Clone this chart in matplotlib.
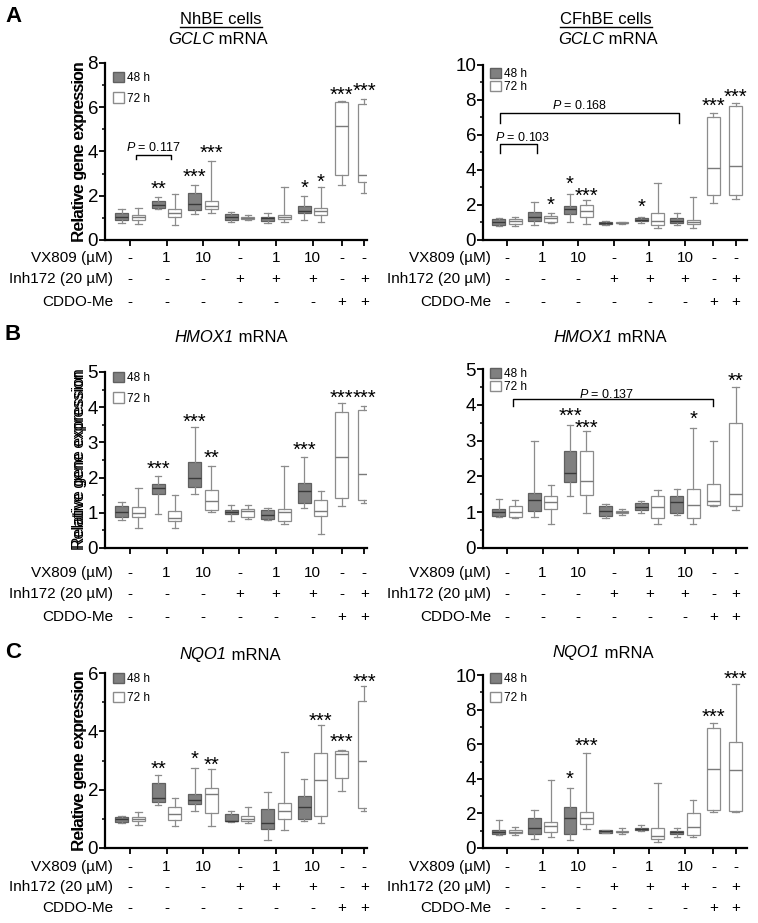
import matplotlib
matplotlib.use("Agg")
import matplotlib.pyplot as plt
import matplotlib.transforms as mtransforms
from matplotlib.lines import Line2D
from matplotlib.patches import Patch
from matplotlib.ticker import MultipleLocator, AutoMinorLocator

plt.rcParams['font.family'] = ['Liberation Sans', 'DejaVu Sans']
plt.rcParams['mathtext.fontset'] = 'custom'
plt.rcParams['mathtext.rm'] = 'Liberation Sans'
plt.rcParams['mathtext.it'] = 'Liberation Sans:italic'

W, H = 758, 923  # figure size in pixels (dpi 100)

# treatment table under each plot
vx809 = ['-', '1', '10', '-', '1', '10', '-', '-']
inh172 = ['-', '-', '-', '+', '+', '+', '-', '+']
cddo = ['-', '-', '-', '-', '-', '-', '+', '+']
row_names = ['VX809 (µM)', 'Inh172 (20 µM)', 'CDDO-Me']

# box stats per group: [low whisker, q1, median, q3, high whisker]
# 48 h has the 6 groups without CDDO-Me, 72 h has all 8
gclc_nh_48 = [[0.78, 0.90, 1.06, 1.21, 1.39], [1.39, 1.43, 1.58, 1.78, 1.96],
              [1.18, 1.36, 1.63, 2.14, 2.49], [0.83, 0.90, 1.06, 1.16, 1.28],
              [0.78, 0.86, 0.98, 1.06, 1.24], [0.90, 1.21, 1.33, 1.54, 1.99]]
gclc_nh_72 = [[0.71, 0.90, 1.03, 1.13, 1.43], [0.68, 1.06, 1.20, 1.39, 2.08],
              [1.21, 1.39, 1.55, 1.77, 3.58], [0.90, 0.94, 1.01, 1.06, 1.13],
              [0.83, 0.94, 1.06, 1.13, 2.38], [0.83, 1.13, 1.30, 1.43, 2.38],
              [2.49, 2.94, 5.16, 6.22, 6.26], [2.11, 2.64, 2.94, 6.14, 6.37]]

gclc_cf_48 = [[0.82, 0.86, 1.03, 1.20, 1.24], [0.86, 1.10, 1.33, 1.60, 2.19],
              [1.05, 1.47, 1.75, 1.94, 2.63], [0.86, 0.91, 0.97, 1.05, 1.07],
              [0.99, 1.09, 1.16, 1.24, 1.33], [0.86, 0.99, 1.10, 1.24, 1.52]]
gclc_cf_72 = [[0.80, 0.90, 1.09, 1.20, 1.30], [0.99, 1.05, 1.24, 1.37, 1.52],
              [0.91, 1.33, 1.68, 2.00, 2.29], [0.91, 0.95, 0.99, 1.03, 1.05],
              [0.67, 0.86, 1.10, 1.52, 3.28], [0.70, 0.91, 1.05, 1.14, 2.44],
              [2.10, 2.57, 4.10, 7.00, 7.24], [2.32, 2.57, 4.25, 7.66, 7.85]]

hmox_nh_48 = [[0.80, 0.88, 1.02, 1.20, 1.30], [0.96, 1.53, 1.70, 1.82, 2.05],
              [1.53, 1.73, 1.99, 2.45, 3.45], [0.77, 0.96, 1.02, 1.07, 1.21],
              [0.80, 0.83, 0.94, 1.07, 1.15], [1.13, 1.27, 1.62, 1.86, 2.59]]
hmox_nh_72 = [[0.58, 0.88, 0.99, 1.16, 1.70], [0.58, 0.77, 0.85, 1.06, 1.51],
              [1.01, 1.07, 1.34, 1.65, 2.34], [0.83, 0.88, 1.04, 1.11, 1.21],
              [0.68, 0.78, 1.02, 1.10, 2.33], [0.41, 0.90, 1.06, 1.35, 1.63],
              [1.18, 1.42, 2.59, 3.85, 4.13], [1.27, 1.37, 2.09, 3.92, 4.04]]

hmox_cf_48 = [[0.87, 0.89, 1.01, 1.08, 1.36], [0.87, 1.03, 1.33, 1.55, 3.00],
              [1.44, 1.83, 2.09, 2.70, 3.43], [0.83, 0.89, 1.03, 1.17, 1.22],
              [0.97, 1.06, 1.15, 1.25, 1.31], [0.91, 0.98, 1.29, 1.45, 1.66]]
hmox_cf_72 = [[0.83, 0.87, 1.01, 1.17, 1.33], [0.66, 1.08, 1.29, 1.44, 1.75],
              [0.98, 1.47, 1.86, 2.72, 3.26], [0.91, 0.97, 1.00, 1.03, 1.08],
              [0.68, 0.84, 1.15, 1.44, 1.62], [0.66, 0.84, 1.20, 1.66, 3.35],
              [1.17, 1.20, 1.31, 1.78, 3.00], [1.06, 1.17, 1.52, 3.49, 4.50]]

nqo_nh_48 = [[0.86, 0.88, 0.99, 1.06, 1.09], [1.49, 1.58, 1.71, 2.23, 2.49],
             [1.26, 1.51, 1.66, 1.86, 2.74], [0.89, 0.91, 0.94, 1.17, 1.28],
             [0.29, 0.66, 0.86, 1.34, 1.91], [0.91, 0.99, 1.39, 1.79, 2.37]]
nqo_nh_72 = [[0.80, 0.91, 0.99, 1.06, 1.23], [0.77, 0.97, 1.18, 1.41, 1.71],
             [0.77, 1.20, 1.86, 2.06, 2.72], [0.86, 0.91, 0.99, 1.09, 1.39],
             [0.63, 0.99, 1.28, 1.54, 3.29], [0.86, 1.11, 2.32, 3.26, 4.23],
             [1.97, 2.40, 3.23, 3.31, 3.37], [1.26, 1.37, 2.99, 5.05, 5.54]]

nqo_cf_48 = [[0.75, 0.80, 0.92, 1.05, 1.62], [0.51, 0.80, 1.14, 1.75, 2.19],
             [0.48, 0.80, 1.71, 2.38, 3.47], [0.85, 0.88, 0.97, 1.03, 1.05],
             [0.99, 1.05, 1.10, 1.18, 1.33], [0.61, 0.82, 0.91, 0.99, 1.14]]
nqo_cf_72 = [[0.76, 0.86, 0.93, 1.05, 1.24], [0.61, 0.90, 1.28, 1.52, 3.94],
             [1.09, 1.37, 1.71, 2.06, 5.52], [0.80, 0.90, 0.95, 0.99, 1.18],
             [0.32, 0.53, 0.72, 1.14, 3.75], [0.61, 0.76, 1.20, 2.00, 2.80],
             [2.10, 2.19, 4.57, 6.95, 7.24], [2.10, 2.13, 4.48, 6.10, 9.47]]

# significance marks: (group, series -1=48h / 1=72h / 0=single, text, y)
stars_gclc_nh = [(1, -1, '**', 2.57), (2, -1, '***', 3.1), (2, 1, '***', 4.2),
                 (5, -1, '*', 2.6), (5, 1, '*', 2.9), (6, 0, '***', 6.8), (7, 0, '***', 7.0)]
stars_gclc_cf = [(1, 1, '*', 2.3), (2, -1, '*', 3.5), (2, 1, '***', 2.85),
                 (4, -1, '*', 2.2), (6, 0, '***', 8.0), (7, 0, '***', 8.5)]
stars_hmox_nh = [(1, -1, '***', 2.4), (2, -1, '***', 3.73), (2, 1, '**', 2.72),
                 (5, -1, '***', 2.95), (6, 0, '***', 4.42), (7, 0, '***', 4.42)]
stars_hmox_cf = [(2, -1, '***', 3.85), (2, 1, '***', 3.52), (5, 1, '*', 3.75), (7, 0, '**', 4.83)]
stars_nqo_nh = [(1, -1, '**', 2.9), (2, -1, '*', 3.23), (2, 1, '**', 3.03),
                (5, 1, '***', 4.54), (6, 0, '***', 3.83), (7, 0, '***', 5.9)]
stars_nqo_cf = [(2, -1, '*', 4.3), (2, 1, '***', 6.2), (6, 0, '***', 7.9), (7, 0, '***', 10.1)]

# P value brackets: (x start, x end, y, drop, label, label x, label y)
br_gclc_nh = [(0.17, 1.12, 3.85, 0.2, '0.117', 0.66, 4.23)]
br_gclc_cf = [(-0.21, 0.84, 5.47, 0.52, '0.103', 0.43, 5.9),
              (-0.21, 4.83, 7.28, 0.61, '0.168', 2.05, 7.77)]
br_hmox_cf = [(0.17, 5.8, 4.16, 0.19, '0.137', 2.8, 4.33)]

# layout
xpos = [0, 1, 2, 3, 4, 5, 5.8, 6.42]
OFF = 0.23
BW = 0.36
GREY = '#808080'
GREY_EDGE = '#606060'
WHITE_EDGE = '#8c8c8c'
WHISK = '#8c8c8c'


def to_stats(rows):
    return [dict(whislo=a, q1=b, med=c, q3=d, whishi=e) for a, b, c, d, e in rows]


def ftext(fig, xpx, ypx, s, **kw):
    return fig.text(xpx / W, 1 - ypx / H, s, **kw)


def draw_panel(fig, rect, s48, s72, ymax, ystep, stars, brackets, rows_dy, leg):
    x0, x1, ytop, ybot, g0px, step = rect
    ax = fig.add_axes([x0 / W, 1 - ybot / H, (x1 - x0) / W, (ybot - ytop) / H])
    ax.set_xlim((x0 - g0px) / step, (x1 - g0px) / step)
    ax.set_ylim(0, ymax)

    pos48 = [xpos[i] - OFF for i in range(6)]
    pos72 = [xpos[i] + OFF for i in range(6)] + [xpos[6], xpos[7]]
    ax.bxp(to_stats(s48), positions=pos48, widths=BW, patch_artist=True, showfliers=False,
           boxprops=dict(facecolor=GREY, edgecolor=GREY_EDGE, linewidth=0.9),
           medianprops=dict(color='#3a3a3a', linewidth=1.0),
           whiskerprops=dict(color=WHISK, linewidth=0.9),
           capprops=dict(color=WHISK, linewidth=0.9))
    ax.bxp(to_stats(s72), positions=pos72, widths=BW, patch_artist=True, showfliers=False,
           boxprops=dict(facecolor='white', edgecolor=WHITE_EDGE, linewidth=0.9),
           medianprops=dict(color='#7a7a7a', linewidth=1.0),
           whiskerprops=dict(color=WHISK, linewidth=0.9),
           capprops=dict(color=WHISK, linewidth=0.9))

    for side in ['top', 'right']:
        ax.spines[side].set_visible(False)
    for side in ['left', 'bottom']:
        ax.spines[side].set_linewidth(1.6)
    ax.yaxis.set_major_locator(MultipleLocator(ystep))
    ax.yaxis.set_minor_locator(AutoMinorLocator(2))
    ax.set_xticks(xpos)
    ax.set_xticklabels([])
    ax.tick_params(axis='y', which='major', direction='out', length=4, width=1.3,
                   labelsize=13.5, pad=1)
    ax.tick_params(axis='y', which='minor', direction='out', length=2.5, width=1.1)
    ax.tick_params(axis='x', direction='out', length=4, width=1.3)
    ax.set_ylabel('Relative gene expression', fontsize=11.5)
    ax.yaxis.set_label_coords((87 - x0) / (x1 - x0), 0.5)

    # stars
    for g, ser, txt, y in stars:
        x = xpos[g] + ser * OFF
        ax.annotate(txt, (x, y), xytext=(0, -8.3), textcoords='offset points',
                    ha='center', va='baseline', fontsize=14.5, annotation_clip=False)

    # brackets
    for xa, xb, y, drop, lab, lx, ly in brackets:
        ax.plot([xa, xa, xb, xb], [y - drop, y, y, y - drop], color='black', lw=1.0,
                clip_on=False)
        ax.annotate(r'$\mathit{P}$ = ' + lab, (lx, ly), xytext=(0, -3.3),
                    textcoords='offset points', ha='center', va='baseline', fontsize=9,
                    annotation_clip=False)

    # legend
    lx, ly, lsp = leg
    ax.legend(handles=[Patch(facecolor=GREY, edgecolor=GREY_EDGE, label='48 h'),
                       Patch(facecolor='white', edgecolor=WHITE_EDGE, label='72 h')],
              loc='upper left', bbox_to_anchor=((lx - x0) / (x1 - x0), 1 - (ly - ytop) / (ybot - ytop)),
              frameon=False, fontsize=8.5, handlelength=0.95, handleheight=0.95,
              handletextpad=0.2, labelspacing=lsp, borderaxespad=0, borderpad=0)

    # treatment table
    tr = mtransforms.blended_transform_factory(ax.transData, fig.transFigure)
    for row, dy, name in zip([vx809, inh172, cddo], rows_dy, row_names):
        ypx = ybot + dy
        ftext(fig, x0 + 8, ypx, name, ha='right', va='center', fontsize=11)
        for g, s in enumerate(row):
            ax.text(xpos[g], 1 - ypx / H, s, transform=tr, ha='center', va='center',
                    fontsize=11)
    return ax


def gene_title(fig, rend, xc, ypx, gene):
    # italic gene name followed by upright " mRNA", centred as one line
    a = ftext(fig, xc, ypx, gene, ha='left', va='center', fontsize=12, fontstyle='italic')
    b = ftext(fig, xc, ypx, ' mRNA', ha='left', va='center', fontsize=12)
    wa = a.get_window_extent(rend).width
    wb = b.get_window_extent(rend).width
    left = xc - (wa + wb) / 2
    a.set_x(left / W)
    b.set_x((left + wa) / W)


fig = plt.figure(figsize=(W / 100, H / 100), dpi=100)

# rect: x0, x1, top, bottom (px), px of group 0, px per group
draw_panel(fig, (105, 367, 63, 240, 130, 36.5), gclc_nh_48, gclc_nh_72, 8, 2,
           stars_gclc_nh, br_gclc_nh, (18, 39, 62), (113, 72, 0.7))
draw_panel(fig, (483, 747, 65, 240, 507, 35.6), gclc_cf_48, gclc_cf_72, 10, 2,
           stars_gclc_cf, br_gclc_cf, (18, 39, 62), (490, 68, 0.05))
draw_panel(fig, (105, 367, 372, 548, 130, 36.5), hmox_nh_48, hmox_nh_72, 5, 1,
           stars_hmox_nh, [], (25, 46, 69), (113, 372, 0.7))
draw_panel(fig, (483, 747, 369, 548, 507, 35.6), hmox_cf_48, hmox_cf_72, 5, 1,
           stars_hmox_cf, br_hmox_cf, (25, 46, 69), (490, 368, 0.05))
draw_panel(fig, (105, 367, 673, 848, 130, 36.5), nqo_nh_48, nqo_nh_72, 6, 2,
           stars_nqo_nh, [], (19, 39, 60), (113, 673, 0.55))
draw_panel(fig, (483, 747, 675, 848, 507, 35.6), nqo_cf_48, nqo_cf_72, 10, 2,
           stars_nqo_cf, [], (19, 39, 60), (490, 673, 0.55))

fig.canvas.draw()
rend = fig.canvas.get_renderer()

# titles
t1 = ftext(fig, 221, 20, 'NhBE cells', ha='center', va='center', fontsize=12)
t2 = ftext(fig, 606, 20, 'CFhBE cells', ha='center', va='center', fontsize=12)
gene_title(fig, rend, 218, 40, 'GCLC')
gene_title(fig, rend, 608, 40, 'GCLC')
gene_title(fig, rend, 231, 337, 'HMOX1')
gene_title(fig, rend, 610, 338, 'HMOX1')
gene_title(fig, rend, 230, 655, 'NQO1')
gene_title(fig, rend, 603, 653, 'NQO1')

# panel letters
for letter, ypx in [('A', 17), ('B', 335), ('C', 653)]:
    ftext(fig, 13, ypx, letter, ha='center', va='center', fontsize=16, fontweight='bold')

# underline the cell line names
for t in [t1, t2]:
    bb = t.get_window_extent(rend).transformed(fig.transFigure.inverted())
    fig.add_artist(Line2D([bb.x0, bb.x1], [bb.y0 + 0.0005, bb.y0 + 0.0005],
                          transform=fig.transFigure, color='black', lw=1.0))

fig.savefig('out.png', dpi=100)
